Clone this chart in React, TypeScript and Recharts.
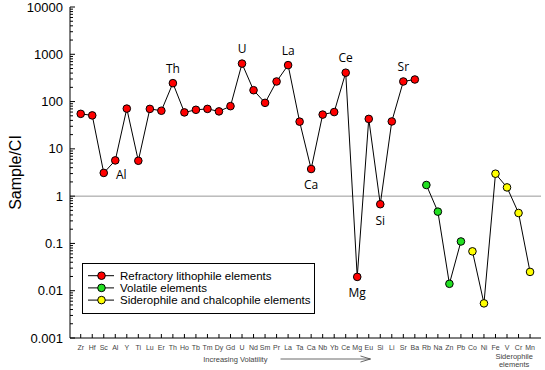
import React from 'react';
import { ComposedChart, Line, XAxis, YAxis, ReferenceLine, Legend, LabelList } from 'recharts';

const elements = [
  'Zr', 'Hf', 'Sc', 'Al', 'Y', 'Ti', 'Lu', 'Er', 'Th', 'Ho', 'Tb', 'Tm', 'Dy', 'Gd', 'U', 'Nd', 'Sm', 'Pr', 'La', 'Ta',
  'Ca', 'Nb', 'Yb', 'Ce', 'Mg', 'Eu', 'Si', 'Li', 'Sr', 'Ba', 'Rb', 'Na', 'Zn', 'Pb', 'Co', 'Ni', 'Fe', 'V', 'Cr', 'Mn',
];

// Zr .. Ba
const refractory = [
  55, 51, 3.1, 5.7, 71, 5.6, 70, 64, 245, 59, 67, 70, 62, 80, 635, 174, 94, 266, 590, 37.6,
  3.75, 53, 60, 408, 0.0196, 43, 0.675, 38, 266, 293,
];
// Rb .. Pb
const volatile = [1.72, 0.47, 0.014, 0.11];
// Co .. Mn
const siderophile = [0.068, 0.0054, 2.98, 1.53, 0.44, 0.025];

const volStart = refractory.length;
const sidStart = volStart + volatile.length;

const yTickLabels = [0.001, 0.01, 0.1, 1, 10, 100, 1000, 10000];
const minorSteps = [1, 2, 3, 4, 5, 6, 7, 8, 9];

const labelsAbove = ['Th', 'U', 'La', 'Ce', 'Sr'];
const labelsBelow = ['Ca', 'Mg', 'Si'];
const labelsRight = ['Al'];

const series = [
  { key: 'refr', name: 'Refractory lithophile elements', color: '#ff0000' },
  { key: 'vol', name: 'Volatile elements', color: '#22e022' },
  { key: 'sid', name: 'Siderophile and chalcophile elements', color: '#ffff00' },
];

const data = elements.map((name, i) => ({
  idx: i,
  name,
  refr: i < volStart ? refractory[i] : null,
  vol: i >= volStart && i < sidStart ? volatile[i - volStart] : null,
  sid: i >= sidStart ? siderophile[i - sidStart] : null,
}));

const xTicks = elements.map((_, i) => i);
const yTicks = yTickLabels.slice(0, -1).flatMap((d) => minorSteps.map((m) => +(d * m).toPrecision(3))).concat([10000]);
const isMajor = (v: number) => yTickLabels.includes(v);

const sans = 'Liberation Sans, Arial, sans-serif';

const BottomTick = ({ x, y, payload }: any) => (
  <g>
    <line x1={x} x2={x} y1={y} y2={y - 4} stroke="#000" />
    <text x={x} y={y + 11.5} textAnchor="middle" fontSize={7} fontFamily={sans} fill="#444">
      {elements[payload.value]}
    </text>
  </g>
);

const TopTick = ({ x, y }: any) => <line x1={x} x2={x} y1={y} y2={y + 4} stroke="#000" />;

const LeftTick = ({ x, y, payload }: any) => {
  const major = isMajor(payload.value);
  return (
    <g>
      <line x1={x} x2={x + (major ? 5 : 3)} y1={y} y2={y} stroke="#000" />
      {major && (
        <text x={x - 7} y={y + 4.5} textAnchor="end" fontSize={13} fontFamily={sans} fill="#000">
          {payload.value}
        </text>
      )}
    </g>
  );
};

const RightTick = ({ x, y, payload }: any) => {
  const major = isMajor(payload.value);
  return <line x1={x} x2={x - (major ? 5 : 3)} y1={y} y2={y} stroke="#000" />;
};

const YLabel = ({ viewBox }: any) => {
  const cy = viewBox.y + viewBox.height / 2;
  return (
    <text x={15} y={cy} transform={`rotate(-90 15 ${cy})`} textAnchor="middle" dominantBaseline="central" fontSize={16} fontFamily={sans} fill="#000">
      Sample/CI
    </text>
  );
};

const XNotes = ({ viewBox }: any) => {
  const { x, y, width } = viewBox;
  const ax1 = x + width * 0.447;
  const ax2 = x + width * 0.638;
  const ay = y + 21;
  return (
    <g fontFamily={sans} fontSize={7.5} fill="#444">
      <text x={x + width * 0.351} y={y + 23.5} textAnchor="middle">Increasing Volatility</text>
      <line x1={ax1} x2={ax2} y1={ay} y2={ay} stroke="#444" strokeWidth={0.8} />
      <polyline points={`${ax2 - 10},${ay - 3} ${ax2},${ay} ${ax2 - 10},${ay + 3}`} fill="none" stroke="#444" strokeWidth={0.8} />
      <text x={x + width * 0.943} y={y + 20.5} textAnchor="middle">Siderophile</text>
      <text x={x + width * 0.943} y={y + 28.5} textAnchor="middle">elements</text>
    </g>
  );
};

const PointLabel = ({ x, y, value }: any) => {
  let dx = 0;
  let dy = 0;
  if (labelsAbove.includes(value)) dy = -15;
  else if (labelsBelow.includes(value)) dy = 16;
  else if (labelsRight.includes(value)) { dx = 6; dy = 14; }
  else return null;
  return (
    <text x={x + dx} y={y + dy} textAnchor="middle" dominantBaseline="central" fontSize={12} fontFamily="Open Sans, sans-serif" fill="#000">
      {value}
    </text>
  );
};

const LegendBox = () => (
  <div style={{ border: '1px solid #000', background: '#fff', width: 233, height: 51, boxSizing: 'border-box' }}>
    <svg width={231} height={49} style={{ display: 'block' }}>
      {series.map((s, i) => {
        const cy = 11.7 + i * 12.2;
        return (
          <g key={s.key}>
            <line x1={5} x2={31} y1={cy} y2={cy} stroke="#000" />
            <circle cx={18.5} cy={cy} r={3.8} fill={s.color} stroke="#000" />
            <text x={37} y={cy + 4} fontSize={11.5} fontFamily={sans} fill="#000">{s.name}</text>
          </g>
        );
      })}
    </svg>
  </div>
);

export default function App() {
  return (
    <div style={{ position: 'absolute', left: 0, top: 0, background: '#fff' }}>
      <ComposedChart width={545} height={370} data={data} margin={{ top: 7, right: 4, bottom: 0, left: 0 }}>
        <XAxis
          dataKey="idx"
          type="number"
          domain={[-0.93, 39.95]}
          allowDataOverflow
          ticks={xTicks}
          interval={0}
          height={32}
          tickLine={false}
          tickSize={0}
          tickMargin={0}
          axisLine={{ stroke: '#000' }}
          tick={<BottomTick />}
          label={XNotes}
        />
        <XAxis
          xAxisId="top"
          dataKey="idx"
          type="number"
          orientation="top"
          domain={[-0.93, 39.95]}
          allowDataOverflow
          ticks={xTicks}
          interval={0}
          height={0}
          tickLine={false}
          tickSize={0}
          tickMargin={0}
          axisLine={{ stroke: '#000' }}
          tick={<TopTick />}
        />
        <YAxis
          scale="log"
          domain={[0.001, 10000]}
          allowDataOverflow
          ticks={yTicks}
          interval={0}
          width={70}
          tickLine={false}
          tickSize={0}
          tickMargin={0}
          axisLine={{ stroke: '#000' }}
          tick={<LeftTick />}
          label={YLabel}
        />
        <YAxis
          yAxisId="right"
          orientation="right"
          scale="log"
          domain={[0.001, 10000]}
          allowDataOverflow
          ticks={yTicks}
          interval={0}
          width={0}
          tickLine={false}
          tickSize={0}
          tickMargin={0}
          axisLine={{ stroke: '#000' }}
          tick={<RightTick />}
        />
        <ReferenceLine y={1} stroke="#999" strokeWidth={1} />
        {series.map((s) => (
          <Line
            key={s.key}
            dataKey={s.key}
            name={s.name}
            stroke="#000"
            strokeWidth={1}
            dot={{ r: 3.8, fill: s.color, stroke: '#000', strokeWidth: 1 }}
            activeDot={false}
            isAnimationActive={false}
          >
            {s.key === 'refr' && <LabelList dataKey="name" content={PointLabel} />}
          </Line>
        ))}
        <Legend
          layout="vertical"
          align="center"
          verticalAlign="middle"
          wrapperStyle={{ left: 82, top: 263, width: 233, height: 51 }}
          content={<LegendBox />}
        />
      </ComposedChart>
    </div>
  );
}
